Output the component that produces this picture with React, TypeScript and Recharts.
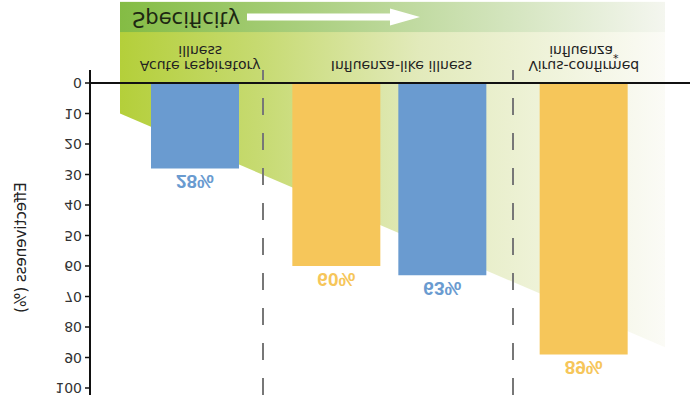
import { BarChart, Bar, XAxis, YAxis, Cell, LabelList, ReferenceLine, ReferenceArea, Label } from 'recharts'

// groups along the x axis
const categories = ['Acute respiratory illness', 'Influenza-like illness', 'Virus-confirmed influenza*']
const categoryLines = [['Acute respiratory', 'illness'], ['Influenza-like illness'], ['Virus-confirmed', 'influenza']]

// groups with one bar
const soloValues = [28, null, 89]
const soloKind = ['A', null, 'B']
// the group with two bars
const pairB = [null, 60, null]
const pairA = [null, 63, null]

const yTicks = [0, 10, 20, 30, 40, 50, 60, 70, 80, 90, 100]

const BLUE = '#6a9bd0'
const YELLOW = '#f6c65a'
const kindColor: Record<string, string> = { A: BLUE, B: YELLOW }
const FONT = 'DejaVu Sans'
const PAD_L = 8
const PAD_R = 9

const data = categories.map((name, i) => ({
  name,
  solo: soloValues[i],
  pairB: pairB[i],
  pairA: pairA[i],
}))

const soloColor = (v: number) => kindColor[soloKind[soloValues.indexOf(v)] ?? 'A']

// background: specificity band, dashed group separators, long y axis line
function Backdrop(props: any) {
  const { x, y, width, height } = props
  const k = height / 100
  const yOf = (v: number) => y + height - v * k
  const plotL = x - PAD_L
  const left = x + 22
  const right = x + width - 16
  const ySplit = yOf(-16.7)
  const yBot = yOf(-26.6)
  const midY = (ySplit + yBot) / 2
  const ax0 = left + 127
  const axHead = left + 270
  const axTip = left + 300
  const lineTop = yOf(102.3)
  const lineBot = yOf(-4.3)
  return (
    <g>
      <defs>
        <linearGradient id="gLow" x1="0" y1="0" x2="1" y2="0">
          <stop offset="0" stopColor="#b4cf3a" />
          <stop offset="0.25" stopColor="#c6da70" />
          <stop offset="0.55" stopColor="#e2eabb" />
          <stop offset="1" stopColor="#fbfbf6" />
        </linearGradient>
        <linearGradient id="gTop" x1="0" y1="0" x2="1" y2="0">
          <stop offset="0" stopColor="#84bc44" />
          <stop offset="0.5" stopColor="#bcd89a" />
          <stop offset="1" stopColor="#f4f6ef" />
        </linearGradient>
      </defs>
      <polygon
        points={`${left},${yOf(10)} ${right},${yOf(86.6)} ${right},${ySplit} ${left},${ySplit}`}
        fill="url(#gLow)"
      />
      <rect x={left} y={ySplit} width={right - left} height={yBot - ySplit} fill="url(#gTop)" />
      <text x={left + 12} y={ySplit + 20} fontFamily={FONT} fontSize={21} fill="#1d2812">
        Specificity
      </text>
      <polygon
        points={`${ax0},${midY - 3.5} ${axHead},${midY - 3.5} ${axHead},${midY - 8.5} ${axTip},${midY} ${axHead},${midY + 8.5} ${axHead},${midY + 3.5} ${ax0},${midY + 3.5}`}
        fill="#ffffff"
      />
      {[173, 423].map((dx) => (
        <line
          key={dx}
          x1={plotL + dx}
          x2={plotL + dx}
          y1={lineTop}
          y2={lineBot}
          stroke="#777"
          strokeWidth={2}
          strokeDasharray="17 18"
        />
      ))}
      <line x1={plotL} x2={plotL} y1={lineTop} y2={lineBot} stroke="#111" strokeWidth={2} />
    </g>
  )
}

const tickNudge = [5, 12, 0]

function CategoryTick(props: any) {
  const { x, y, payload } = props
  const lines = categoryLines[payload.index]
  const star = payload.index === 2
  const cx = x + tickNudge[payload.index]
  return (
    <text x={cx} y={y} textAnchor="middle" fontFamily={FONT} fontSize={14} fill="#222">
      {lines.map((line, i) => (
        <tspan key={i} x={cx} dy={i === 0 ? 14 : 15}>
          {line}
          {star && i === lines.length - 1 ? (
            <tspan fontSize={11} dy={-5}>*</tspan>
          ) : null}
        </tspan>
      ))}
    </text>
  )
}

function YTitle(props: any) {
  const { viewBox } = props
  const cy = viewBox.y + viewBox.height / 2 - 12
  return (
    <text
      x={21}
      y={cy}
      transform={`rotate(-90, 21, ${cy})`}
      textAnchor="middle"
      dominantBaseline="central"
      fontFamily={FONT}
      fontSize={15}
      fill="#222"
    >
      Effectiveness (%)
    </text>
  )
}

const pctLabel = (colorOf: (v: number) => string) => (props: any) => {
  const { x, y, width, value } = props
  if (value === null || value === undefined) return null
  return (
    <text
      x={x + width / 2}
      y={y - 7}
      textAnchor="middle"
      fill={colorOf(value)}
      fontFamily="Liberation Sans"
      fontWeight="bold"
      fontSize={19}
    >
      {`${value}%`}
    </text>
  )
}

export default function App() {
  return (
    <div
      style={{
        position: 'absolute',
        left: 0,
        top: 0,
        width: 693,
        height: 412,
        background: '#fff',
        transform: 'scaleY(-1)',
      }}
    >
      <BarChart width={693} height={412} data={data} barGap={18} margin={{ top: 24, right: 3, bottom: 0, left: 0 }}>
        <XAxis
          xAxisId="a"
          dataKey="name"
          height={83}
          axisLine={false}
          tickLine={false}
          interval={0}
          padding={{ left: PAD_L, right: PAD_R }}
          tick={<CategoryTick />}
        />
        <XAxis xAxisId="b" dataKey="name" hide padding={{ left: PAD_L, right: PAD_R }} />
        <YAxis
          width={90}
          domain={[0, 100]}
          ticks={yTicks}
          interval={0}
          axisLine={false}
          tickSize={5}
          tickMargin={3}
          tickLine={{ stroke: '#111', strokeWidth: 1.5 }}
          tick={{ fontFamily: FONT, fontSize: 14, fill: '#333' }}
          label={<Label content={<YTitle />} />}
        />
        <ReferenceArea
          xAxisId="a"
          x1={categories[0]}
          x2={categories[2]}
          y1={0}
          y2={100}
          ifOverflow="visible"
          shape={<Backdrop />}
        />
        <Bar xAxisId="a" dataKey="solo" barSize={88} isAnimationActive={false}>
          {data.map((d, i) => (
            <Cell key={d.name} fill={kindColor[soloKind[i] ?? 'A']} />
          ))}
          <LabelList dataKey="solo" content={pctLabel(soloColor)} />
        </Bar>
        <Bar xAxisId="b" dataKey="pairB" fill={YELLOW} barSize={88} isAnimationActive={false}>
          <LabelList dataKey="pairB" content={pctLabel(() => YELLOW)} />
        </Bar>
        <Bar xAxisId="b" dataKey="pairA" fill={BLUE} barSize={88} isAnimationActive={false}>
          <LabelList dataKey="pairA" content={pctLabel(() => BLUE)} />
        </Bar>
        <ReferenceLine xAxisId="a" y={0} stroke="#111" strokeWidth={2} />
      </BarChart>
    </div>
  )
}
